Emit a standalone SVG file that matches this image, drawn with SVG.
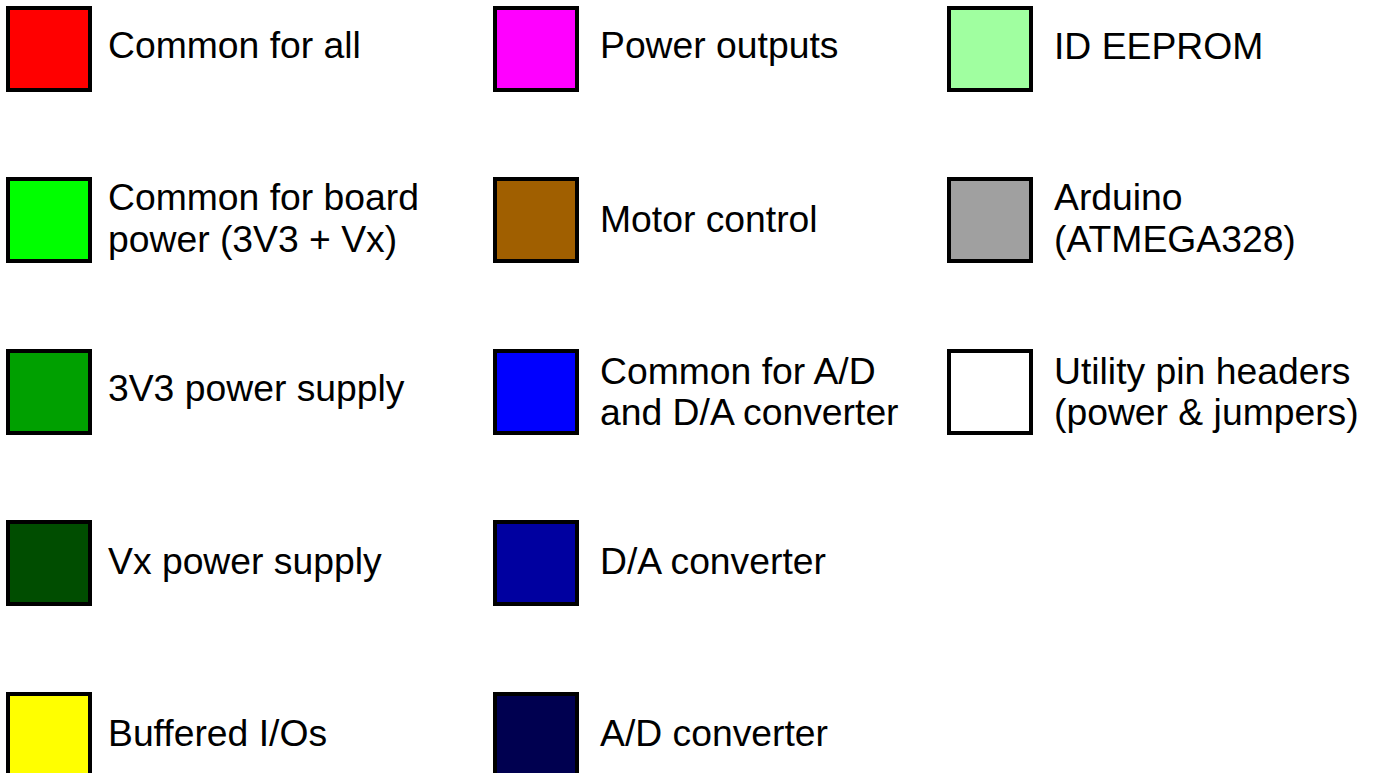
<svg xmlns="http://www.w3.org/2000/svg" width="1374" height="773" viewBox="0 0 1374 773">
<style>
.sw{stroke:#000;stroke-width:4}
.t{font-family:"Liberation Sans",Arial,sans-serif;font-size:37.3px;fill:#000}
</style>
<rect width="1374" height="773" fill="#fff"/>
<g id="common-all"><rect class="sw" x="8" y="8" width="82" height="82" fill="#ff0000"/><text class="t" x="108" y="58">Common for all</text></g>
<g id="common-board-power"><rect class="sw" x="8" y="179" width="82" height="82" fill="#00ff00"/><text class="t" x="108" y="210">Common for board</text><text class="t" x="108" y="252">power (3V3 + Vx)</text></g>
<g id="psu-3v3"><rect class="sw" x="8" y="351" width="82" height="82" fill="#00a000"/><text class="t" x="108" y="401">3V3 power supply</text></g>
<g id="psu-vx"><rect class="sw" x="8" y="522" width="82" height="82" fill="#004d00"/><text class="t" x="108" y="574">Vx power supply</text></g>
<g id="buffered-io"><rect class="sw" x="8" y="694" width="82" height="82" fill="#ffff00"/><text class="t" x="108" y="746">Buffered I/Os</text></g>

<g id="power-outputs"><rect class="sw" x="495" y="8" width="82" height="82" fill="#ff00ff"/><text class="t" x="600" y="58">Power outputs</text></g>
<g id="motor-control"><rect class="sw" x="495" y="179" width="82" height="82" fill="#a05f00"/><text class="t" x="600" y="232">Motor control</text></g>
<g id="common-ad-da"><rect class="sw" x="495" y="351" width="82" height="82" fill="#0000ff"/><text class="t" x="600" y="384">Common for A/D</text><text class="t" x="600" y="425">and D/A converter</text></g>
<g id="da-converter"><rect class="sw" x="495" y="522" width="82" height="82" fill="#0000a0"/><text class="t" x="600" y="574">D/A converter</text></g>
<g id="ad-converter"><rect class="sw" x="495" y="694" width="82" height="82" fill="#000050"/><text class="t" x="600" y="746">A/D converter</text></g>

<g id="id-eeprom"><rect class="sw" x="949" y="8" width="82" height="82" fill="#a0ffa0"/><text class="t" x="1054" y="59">ID EEPROM</text></g>
<g id="arduino"><rect class="sw" x="949" y="179" width="82" height="82" fill="#a0a0a0"/><text class="t" x="1054" y="210">Arduino</text><text class="t" x="1054" y="252">(ATMEGA328)</text></g>
<g id="utility-headers"><rect class="sw" x="949" y="351" width="82" height="82" fill="#ffffff"/><text class="t" x="1054" y="384">Utility pin headers</text><text class="t" x="1054" y="425">(power &amp; jumpers)</text></g>
<g id="connectors"/>
</svg>
